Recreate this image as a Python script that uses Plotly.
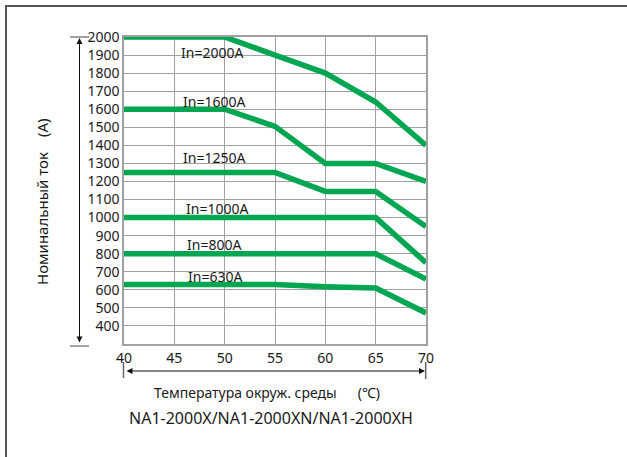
import plotly.graph_objects as go

# ambient temperature, deg C
temps = [40, 45, 50, 55, 60, 65, 70]

# rated current vs temperature for each frame size
in_2000 = [2000, 2000, 2000, 1900, 1800, 1640, 1400]
in_1600 = [1600, 1600, 1600, 1505, 1300, 1300, 1200]
in_1250 = [1250, 1250, 1250, 1250, 1145, 1145, 950]
in_1000 = [1000, 1000, 1000, 1000, 1000, 1000, 750]
in_800 = [800, 800, 800, 800, 800, 800, 660]
in_630 = [630, 630, 630, 630, 617, 610, 472]

series = [in_2000, in_1600, in_1250, in_1000, in_800, in_630]
labels = ['In=2000A', 'In=1600A', 'In=1250A', 'In=1000A', 'In=800A', 'In=630A']
label_x = [48.7, 48.9, 48.9, 49.2, 48.9, 49.0]
label_y = [1916, 1643, 1335, 1050, 853, 672]

y_ticks = list(range(400, 2001, 100))
x_ticks = temps

green = '#00a651'
grid = '#a0a0a0'
font_family = 'Noto Sans, Noto Sans CJK SC, sans-serif'
txt = dict(size=14, color='#1a1a1a', family=font_family)

# plot box in pixels (627x457 page)
L, R, T, B = 124, 201, 37, 113
W, H = 627, 457
pw, ph = W - L - R, H - T - B


def px(xpix):
    return (xpix - L) / pw


def py(ypix):
    return (H - B - ypix) / ph


fig = go.Figure()
for vals in series:
    fig.add_trace(go.Scatter(x=temps, y=vals, mode='lines',
                             line=dict(color=green, width=5.5),
                             showlegend=False, hoverinfo='skip'))

annotations = []
for t, xx, yy in zip(labels, label_x, label_y):
    annotations.append(dict(x=xx, y=yy, xref='x', yref='y', text=t,
                            showarrow=False, font=txt))

# double-headed dimension arrows
annotations.append(dict(x=px(79.5), y=py(38), xref='paper', yref='paper',
                        ax=0, ay=306, axref='pixel', ayref='pixel', text='',
                        showarrow=True, arrowside='end+start', arrowhead=2,
                        arrowsize=1.2, arrowwidth=1, arrowcolor='#111'))
annotations.append(dict(x=px(425), y=py(371), xref='paper', yref='paper',
                        ax=-300, ay=0, axref='pixel', ayref='pixel', text='',
                        showarrow=True, arrowside='end+start', arrowhead=2,
                        arrowsize=1.2, arrowwidth=1, arrowcolor='#111'))

# axis titles and model line
annotations.append(dict(x=px(42), y=py(202), xref='paper', yref='paper',
                        xanchor='center', yanchor='middle',
                        text='Номинальный ток\u3000(A)', textangle=-90,
                        showarrow=False, font=dict(txt, size=15)))
annotations.append(dict(x=px(267), y=py(392), xref='paper', yref='paper',
                        xanchor='center', yanchor='middle',
                        text='Температура окруж. среды\u3000\u2002(℃)',
                        showarrow=False, font=txt))
annotations.append(dict(x=px(270.5), y=py(418), xref='paper', yref='paper',
                        xanchor='center', yanchor='middle',
                        text='NA1-2000X/NA1-2000XN/NA1-2000XH',
                        showarrow=False, font=dict(txt, size=16)))

shapes = [
    # frame of the cropped picture (right/bottom edges fall off the page)
    dict(type='rect', xref='paper', yref='paper', x0=px(6), x1=px(700),
         y0=py(6), y1=py(520), line=dict(color='#555', width=2),
         fillcolor='rgba(0,0,0,0)', layer='below'),
    # caps of the vertical arrow
    dict(type='line', xref='paper', yref='paper', x0=px(70), x1=px(89),
         y0=py(37), y1=py(37), line=dict(color='#444', width=1)),
    dict(type='line', xref='paper', yref='paper', x0=px(70), x1=px(89),
         y0=py(346), y1=py(346), line=dict(color='#444', width=1)),
    # caps of the horizontal arrow
    dict(type='line', xref='paper', yref='paper', x0=px(123.5), x1=px(123.5),
         y0=py(362), y1=py(378), line=dict(color='#666', width=1.5)),
    dict(type='line', xref='paper', yref='paper', x0=px(425.7), x1=px(425.7),
         y0=py(362), y1=py(379), line=dict(color='#666', width=1.5)),
]

fig.update_layout(
    width=W, height=H,
    margin=dict(l=L, r=R, t=T, b=B),
    paper_bgcolor='white', plot_bgcolor='white',
    annotations=annotations, shapes=shapes,
    font=txt,
)
fig.update_xaxes(range=[40, 70], tickvals=x_ticks, showgrid=True,
                 gridcolor=grid, gridwidth=1, showline=True, linecolor=grid,
                 linewidth=1.5, mirror=True, zeroline=False, ticks='',
                 tickfont=txt)
fig.update_yaxes(range=[300, 2000], tickvals=y_ticks, showgrid=True,
                 gridcolor=grid, gridwidth=1, showline=True, linecolor=grid,
                 linewidth=1.5, mirror=True, zeroline=False, ticks='',
                 tickfont=txt)

# the page has a default 8px body margin; drop it so the figure sits at 0,0
fig.write_html('out.html', config={'displayModeBar': False},
               post_script="document.body.style.margin='0';")
